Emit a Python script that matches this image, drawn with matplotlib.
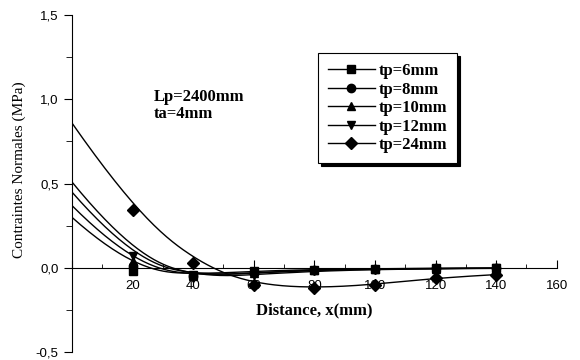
import numpy as np
import matplotlib.pyplot as plt
from matplotlib.ticker import MultipleLocator, FuncFormatter

# distances (mm) and normal stresses (MPa)
x = [0, 20, 40, 60, 80, 100, 120, 140]
tp6 = [0.30, -0.02, -0.04, -0.02, -0.01, -0.005, -0.003, -0.002]
tp8 = [0.37, 0.01, -0.05, -0.03, -0.012, -0.006, -0.003, -0.002]
tp10 = [0.45, 0.04, -0.05, -0.03, -0.015, -0.008, -0.004, -0.002]
tp12 = [0.51, 0.07, -0.06, -0.04, -0.02, -0.01, -0.005, -0.003]
tp24 = [0.86, 0.345, 0.03, -0.10, -0.12, -0.10, -0.06, -0.04]

series = [tp6, tp8, tp10, tp12, tp24]
labels = ["tp=6mm", "tp=8mm", "tp=10mm", "tp=12mm", "tp=24mm"]
markers = ["s", "o", "^", "v", "D"]

serif = "Liberation Serif"
sans = "Liberation Sans"


def bspline(px, py, n=300, k=3):
    # clamped B-spline with the data as control points (like Origin's B-spline line)
    px = np.asarray(px, float)
    py = np.asarray(py, float)
    m = len(px)
    knots = np.concatenate([np.zeros(k), np.linspace(0, 1, m - k + 1), np.ones(k)])
    t = np.linspace(0, 1, n)
    t[-1] -= 1e-9
    B = np.zeros((n, len(knots) - 1))
    for i in range(len(knots) - 1):
        B[:, i] = (knots[i] <= t) & (t < knots[i + 1])
    for d in range(1, k + 1):
        Bn = np.zeros((n, len(knots) - 1 - d))
        for i in range(len(knots) - 1 - d):
            a = knots[i + d] - knots[i]
            b = knots[i + d + 1] - knots[i + 1]
            term = 0
            if a > 0:
                term = term + (t - knots[i]) / a * B[:, i]
            if b > 0:
                term = term + (knots[i + d + 1] - t) / b * B[:, i + 1]
            Bn[:, i] = term
        B = Bn
    return B @ px, B @ py


fig = plt.figure(figsize=(5.8, 3.6), dpi=100)
ax = fig.add_axes([0.124, 0.022, 0.836, 0.936])

for y, lab, m in zip(series, labels, markers):
    cx, cy = bspline(x, y)
    ms = 6 if m == "D" else 6
    ax.plot(cx, cy, color="black", lw=1.0)
    ax.plot(x[1:], y[1:], ls="none", marker=m, color="black", ms=ms)
    ax.plot([], [], color="black", lw=1.0, marker=m, ms=ms, label=lab)

ax.set_xlim(0, 160)
ax.set_ylim(-0.5, 1.5)
ax.spines["top"].set_visible(False)
ax.spines["right"].set_visible(False)
ax.spines["bottom"].set_position(("data", 0))

ax.xaxis.set_major_locator(MultipleLocator(20))
ax.xaxis.set_minor_locator(MultipleLocator(10))
ax.yaxis.set_major_locator(MultipleLocator(0.5))
ax.yaxis.set_minor_locator(MultipleLocator(0.25))
ax.xaxis.set_major_formatter(FuncFormatter(lambda v, p: "" if v == 0 else "%d" % v))
ax.yaxis.set_major_formatter(FuncFormatter(lambda v, p: ("%.1f" % v).replace(".", ",")))
ax.tick_params(axis="both", labelsize=9.5)
ax.tick_params(axis="x", which="major", direction="in", length=6, pad=9)
ax.tick_params(axis="x", which="minor", direction="in", length=3)
ax.tick_params(axis="y", which="major", direction="out", length=6)
ax.tick_params(axis="y", which="minor", direction="out", length=4)
for t in ax.get_xticklabels() + ax.get_yticklabels():
    t.set_fontfamily(sans)

ax.text(80, -0.25, "Distance, x(mm)", ha="center", va="center",
        fontsize=12, fontweight="bold", fontfamily=serif)
fig.text(0.033, 0.53, "Contraintes Normales (MPa)", rotation=90,
         ha="center", va="center", fontsize=11, fontfamily=serif)
ax.text(27, 0.965, "Lp=2400mm\nta=4mm", ha="left", va="center",
        fontsize=12, fontweight="bold", fontfamily=serif, linespacing=1.1)

leg = ax.legend(loc="upper left", bbox_to_anchor=(0.49, 0.912), frameon=True,
                fancybox=False, shadow={"color": "black", "alpha": 1},
                edgecolor="black",
                prop={"family": serif, "weight": "bold", "size": 12},
                handlelength=2.8, labelspacing=0.15, handletextpad=0.25,
                borderpad=0.6)
leg.get_frame().set_linewidth(0.8)

fig.savefig("out.png", dpi=100)
